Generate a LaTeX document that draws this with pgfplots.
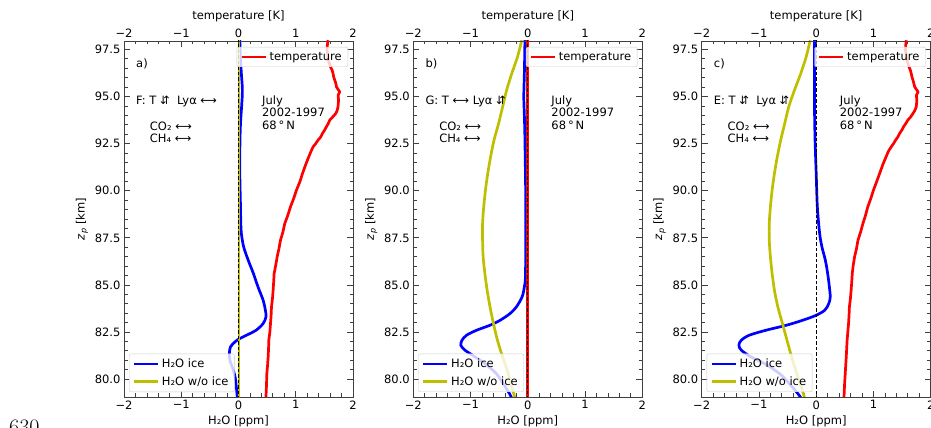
\documentclass[border=0pt]{standalone}
\usepackage{fontspec}
\setsansfont{DejaVu Sans}
\usepackage{pgfplots}
\pgfplotsset{compat=1.18}

\newcommand\fs{\sffamily\fontsize{11.5}{13.5}\selectfont}

\definecolor{mplblue}{RGB}{0,0,255}
\definecolor{mplyellow}{RGB}{191,191,0}
\definecolor{mplred}{RGB}{255,0,0}

\tikzset{note/.style={anchor=base west, inner sep=0pt, font=\fs}}

\pgfplotsset{
  panel/.style={
    at={(#1,31pt)}, anchor=south west,
    width=229pt, height=356pt, scale only axis,
    xmin=-2, xmax=2, ymin=79.05, ymax=97.95,
    xtick={-2,-1,0,1,2}, xticklabels={−2,−1,0,1,2},
    minor x tick num=4,
    ytick={80,82.5,85,87.5,90,92.5,95,97.5},
    minor y tick num=4,
    tick align=inside,
    major tick length=6pt, minor tick length=3.5pt,
    tick style={black!75, line width=0.8pt},
    axis line style={black!75, line width=0.8pt},
    tick label style={font=\fs},
    label style={font=\fs},
    /pgf/number format/assume math mode=true,
    legend image code/.code={\draw[##1] (0pt,0pt) -- (24pt,0pt);},
    legend cell align=left,
  },
  leg/.style={
    fill=white, fill opacity=0.8, text opacity=1, draw=black!20,
    rounded corners=2pt, font=\fs, inner xsep=3.5pt, inner ysep=2.5pt,
    nodes={inner sep=2.5pt}, row sep=2.5pt,
  },
  main/.style={
    panel=#1, xtick pos=left, ytick pos=both,
    xlabel={H₂O [ppm]},
    ylabel={\textit{z}\textsubscript{\textit{p}} [km]},
    yticklabel style={/pgf/number format/.cd, fixed, fixed zerofill, precision=1},
    legend style={leg, at={(0,0)}, anchor=south west, xshift=5pt, yshift=5pt},
  },
  twin/.style={
    panel=#1, xtick pos=right, xticklabel pos=right, hide y axis,
    xlabel={temperature [K]},
    legend style={leg, at={(1,1)}, anchor=north east, xshift=-5pt, yshift=-6pt},
  },
  ice/.style={mplblue, line width=2.7pt, smooth},
  noice/.style={mplyellow, line width=2.7pt, smooth},
  temp/.style={mplred, line width=2.7pt, line join=round},
  zero/.style={black, line width=0.9pt, dash pattern=on 3.5pt off 2pt, forget plot},
}

\begin{document}
\begin{tikzpicture}

% ---------------- panel a ----------------
\begin{axis}[main=124pt]
\addplot[ice] coordinates {
(0.023,97.99)(0.035,97.0)(0.05,96.22)(0.068,95.34)(0.055,94.5)(0.035,93.57)
(0.025,92.5)(0.023,90.91)(0.035,89.14)(0.04,88.3)(0.05,87.73)(0.09,87.02)
(0.17,86.31)(0.26,85.61)(0.34,84.90)(0.43,84.19)(0.47,83.65)(0.48,83.30)
(0.43,82.95)(0.31,82.60)(0.14,82.33)(0.02,82.15)(-0.06,81.98)(-0.14,81.71)
(-0.16,81.36)(-0.15,81.00)(-0.09,80.47)(-0.05,79.94)(-0.02,78.97)};
\addlegendentry{H₂O ice}
\addplot[noice] coordinates {(0.01,78.9)(0.01,98.1)};
\addlegendentry{H₂O w/o ice}
\node[note] at (-1.79,96.52) {a)};
\node[note] at (-1.79,94.60) {F: T ⇵\ \ Lyα ⟷};
\node[note] at (-1.55,93.22) {CO₂ ⟷};
\node[note] at (-1.55,92.58) {CH₄ ⟷};
\node[note] at (0.41,94.60) {July};
\node[note] at (0.41,93.92) {2002-1997};
\node[note] at (0.41,93.27) {68\,°\,N};
\end{axis}
\begin{axis}[twin=124pt]
\addplot[temp] coordinates {
(1.565,97.99)(1.55,97.70)(1.547,97.46)(1.558,97.20)(1.565,96.93)(1.59,96.75)
(1.606,96.58)(1.635,96.40)(1.652,96.22)(1.662,96.05)(1.682,95.87)(1.70,95.70)
(1.711,95.52)(1.735,95.40)(1.769,95.25)(1.740,95.07)(1.748,94.80)(1.738,94.45)
(1.722,94.25)(1.699,94.10)(1.64,93.90)(1.594,93.75)(1.568,93.57)(1.536,93.40)
(1.50,93.20)(1.466,93.04)(1.435,92.85)(1.390,92.69)(1.348,92.50)(1.303,92.33)
(1.268,92.10)(1.227,91.80)(1.175,91.40)(1.117,90.91)(1.075,90.50)(1.012,90.03)
(0.965,89.60)(0.907,89.14)(0.862,88.70)(0.808,88.26)(0.775,87.80)(0.733,87.37)
(0.705,86.90)(0.675,86.49)(0.648,86.00)(0.622,85.60)(0.615,85.20)(0.605,84.72)
(0.594,84.30)(0.576,83.83)(0.570,83.40)(0.559,82.95)(0.548,82.50)(0.529,82.06)
(0.525,81.60)(0.518,81.18)(0.507,80.70)(0.495,80.29)(0.489,79.70)(0.482,79.20)
(0.477,78.97)};
\addlegendentry{temperature}
\addplot[zero] coordinates {(0,78.9)(0,98.1)};
\end{axis}

% ---------------- panel b ----------------
\begin{axis}[main=413.3pt]
\addplot[ice] coordinates {
(-0.05,97.99)(-0.06,96.22)(-0.07,95.0)(-0.06,94.0)(-0.05,92.69)(-0.035,89.14)
(-0.04,85.61)(-0.06,84.90)(-0.10,84.36)(-0.20,83.83)(-0.31,83.48)(-0.48,83.13)
(-0.66,82.86)(-0.89,82.60)(-1.07,82.33)(-1.15,82.06)(-1.17,81.80)(-1.10,81.54)
(-0.92,81.18)(-0.75,80.82)(-0.55,80.29)(-0.43,79.76)(-0.32,79.23)(-0.28,78.97)};
\addlegendentry{H₂O ice}
\addplot[noice] coordinates {
(-0.105,97.99)(-0.18,97.11)(-0.28,96.22)(-0.37,95.34)(-0.44,94.45)(-0.51,93.57)
(-0.59,92.69)(-0.65,91.80)(-0.70,90.91)(-0.74,90.03)(-0.77,89.14)(-0.79,88.26)
(-0.79,87.38)(-0.78,86.49)(-0.75,85.61)(-0.71,84.72)(-0.66,83.83)(-0.60,82.95)
(-0.53,82.06)(-0.44,81.18)(-0.34,80.29)(-0.28,79.58)(-0.22,78.97)};
\addlegendentry{H₂O w/o ice}
\node[note] at (-1.79,96.52) {b)};
\node[note] at (-1.79,94.60) {G: T ⟷ Lyα ⇵};
\node[note] at (-1.55,93.22) {CO₂ ⟷};
\node[note] at (-1.55,92.58) {CH₄ ⟷};
\node[note] at (0.41,94.60) {July};
\node[note] at (0.41,93.92) {2002-1997};
\node[note] at (0.41,93.27) {68\,°\,N};
\end{axis}
\begin{axis}[twin=413.3pt]
\addplot[temp] coordinates {(0,78.9)(0,98.1)};
\addlegendentry{temperature}
\addplot[zero] coordinates {(0,78.9)(0,98.1)};
\end{axis}

% ---------------- panel c ----------------
\begin{axis}[main=701.7pt]
\addplot[ice] coordinates {
(-0.03,97.99)(-0.03,96.22)(-0.03,94.45)(-0.02,92.69)(0.0,90.91)(0.02,89.14)
(0.06,87.73)(0.10,87.02)(0.16,86.31)(0.20,85.61)(0.23,84.90)(0.245,84.36)
(0.22,84.01)(0.15,83.66)(0.0,83.39)(-0.23,83.13)(-0.52,82.86)(-0.87,82.60)
(-1.17,82.33)(-1.31,82.06)(-1.35,81.80)(-1.31,81.54)(-1.14,81.18)(-0.90,80.82)
(-0.64,80.29)(-0.47,79.76)(-0.32,79.23)(-0.26,78.97)};
\addlegendentry{H₂O ice}
\addplot[noice] coordinates {
(-0.105,97.99)(-0.175,97.11)(-0.27,96.22)(-0.38,95.34)(-0.48,94.45)(-0.55,93.57)
(-0.62,92.69)(-0.68,91.80)(-0.73,90.91)(-0.77,90.03)(-0.80,89.14)(-0.82,88.26)
(-0.82,87.38)(-0.80,86.49)(-0.77,85.61)(-0.73,84.72)(-0.67,83.83)(-0.59,82.95)
(-0.51,82.06)(-0.43,81.18)(-0.34,80.29)(-0.26,79.58)(-0.20,78.97)};
\addlegendentry{H₂O w/o ice}
\node[note] at (-1.79,96.52) {c)};
\node[note] at (-1.79,94.60) {E: T ⇵\ \ Lyα ⇵};
\node[note] at (-1.55,93.22) {CO₂ ⟷};
\node[note] at (-1.55,92.58) {CH₄ ⟷};
\node[note] at (0.41,94.60) {July};
\node[note] at (0.41,93.92) {2002-1997};
\node[note] at (0.41,93.27) {68\,°\,N};
\end{axis}
\begin{axis}[twin=701.7pt]
\addplot[temp] coordinates {
(1.573,97.99)(1.562,97.70)(1.56,97.46)(1.572,97.20)(1.585,96.93)(1.605,96.75)
(1.62,96.58)(1.645,96.40)(1.66,96.22)(1.672,96.05)(1.69,95.87)(1.705,95.70)
(1.72,95.52)(1.745,95.40)(1.78,95.25)(1.75,95.07)(1.758,94.80)(1.748,94.45)
(1.72,94.25)(1.69,94.10)(1.645,93.90)(1.60,93.75)(1.565,93.57)(1.527,93.40)
(1.492,93.20)(1.457,93.04)(1.425,92.85)(1.387,92.69)(1.35,92.50)(1.31,92.33)
(1.262,92.10)(1.22,91.80)(1.165,91.40)(1.107,90.91)(1.058,90.50)(1.00,90.03)
(0.955,89.60)(0.90,89.14)(0.862,88.70)(0.816,88.26)(0.775,87.80)(0.73,87.38)
(0.702,86.90)(0.67,86.49)(0.645,86.00)(0.63,85.61)(0.622,85.20)(0.61,84.72)
(0.598,84.30)(0.58,83.83)(0.574,83.40)(0.565,82.95)(0.552,82.50)(0.54,82.06)
(0.532,81.60)(0.525,81.18)(0.515,80.70)(0.507,80.29)(0.495,79.70)(0.488,79.20)
(0.484,78.97)};
\addlegendentry{temperature}
\addplot[zero] coordinates {(0,78.9)(0,98.1)};
\end{axis}

\node[anchor=base west, inner sep=0pt, font=\rmfamily\fontsize{22}{22}\selectfont] at (9pt,-7pt) {630};

\pgfresetboundingbox
\path[use as bounding box] (0,0) rectangle (931pt,428pt);
\end{tikzpicture}
\end{document}
